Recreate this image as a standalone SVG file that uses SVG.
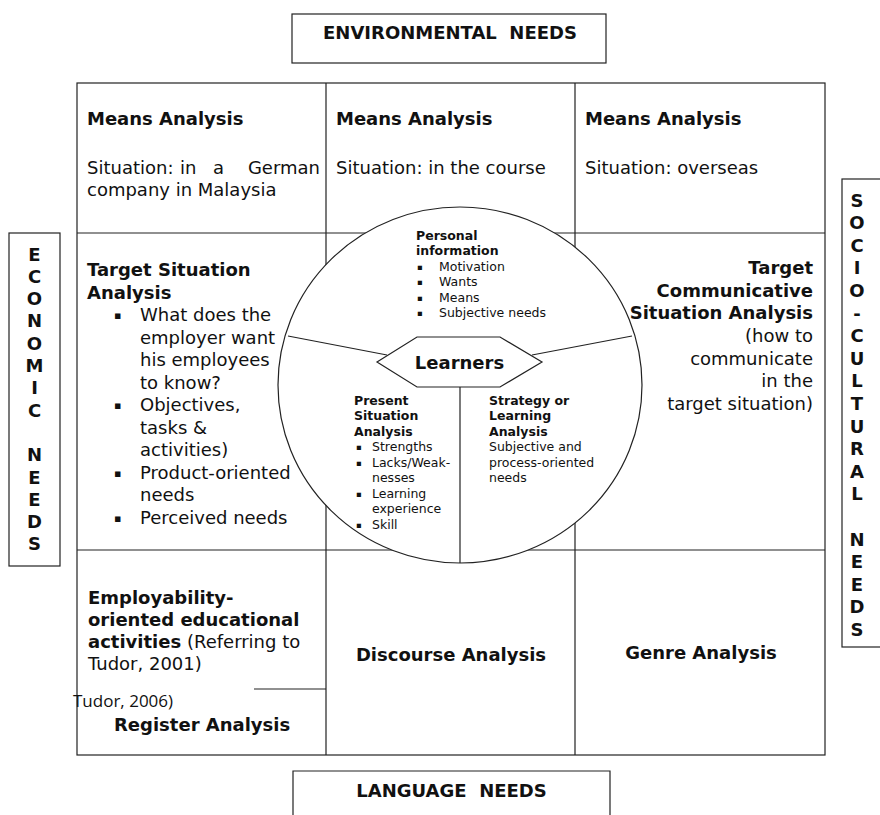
<svg xmlns="http://www.w3.org/2000/svg" width="880" height="815" viewBox="0 0 880 815">
<style>
text{font-family:"DejaVu Sans",Verdana,sans-serif;fill:#111}
.b{font-weight:bold;font-size:18px}
.r{font-size:18px}
.sb{font-weight:bold;font-size:12.5px}
.sr{font-size:12.5px}
.bu{font-size:11px}
.sbu{font-size:8.5px}
.L{font-weight:bold;font-size:18px;text-anchor:middle}
.c{text-anchor:middle}
.e{text-anchor:end}
.ln{stroke:#222;stroke-width:1.2;fill:none}
.box{stroke:#222;stroke-width:1.2;fill:#fff}
.t{font-family:"Open Sans","Liberation Sans",sans-serif;font-size:17px}
</style>
<rect width="880" height="815" fill="#fff"/>

<g id="environmental-needs">
<rect class="box" x="292" y="14" width="314" height="49"/>
<text class="b c" x="450" y="38.5" xml:space="preserve">ENVIRONMENTAL  NEEDS</text>
</g>

<g id="economic-needs">
<rect class="box" x="9" y="233" width="51" height="333"/>
<text class="L" x="34.5" y="260.5">E</text>
<text class="L" x="34.5" y="282.8">C</text>
<text class="L" x="34.5" y="305.1">O</text>
<text class="L" x="34.5" y="327.4">N</text>
<text class="L" x="34.5" y="349.7">O</text>
<text class="L" x="34.5" y="372">M</text>
<text class="L" x="34.5" y="394.3">I</text>
<text class="L" x="34.5" y="416.6">C</text>
<text class="L" x="34.5" y="461.2">N</text>
<text class="L" x="34.5" y="483.5">E</text>
<text class="L" x="34.5" y="505.8">E</text>
<text class="L" x="34.5" y="528.1">D</text>
<text class="L" x="34.5" y="550.4">S</text>
</g>

<g id="socio-cultural-needs">
<rect class="box" x="842" y="179" width="60" height="468"/>
<text class="L" x="857" y="206.5">S</text>
<text class="L" x="857" y="229.1">O</text>
<text class="L" x="857" y="251.7">C</text>
<text class="L" x="857" y="274.3">I</text>
<text class="L" x="857" y="296.9">O</text>
<text class="L" x="857" y="319.5">-</text>
<text class="L" x="857" y="342.1">C</text>
<text class="L" x="857" y="364.7">U</text>
<text class="L" x="857" y="387.3">L</text>
<text class="L" x="857" y="409.9">T</text>
<text class="L" x="857" y="432.5">U</text>
<text class="L" x="857" y="455.1">R</text>
<text class="L" x="857" y="477.7">A</text>
<text class="L" x="857" y="500.3">L</text>
<text class="L" x="857" y="545.5">N</text>
<text class="L" x="857" y="568.1">E</text>
<text class="L" x="857" y="590.7">E</text>
<text class="L" x="857" y="613.3">D</text>
<text class="L" x="857" y="635.9">S</text>
</g>

<g id="language-needs">
<path class="ln" d="M293,815 V771 H610 V815"/>
<text class="b c" x="451.5" y="796.5" xml:space="preserve">LANGUAGE  NEEDS</text>
</g>

<g id="grid">
<rect class="ln" x="77" y="83" width="748" height="672"/>
<path class="ln" d="M77,233 H825 M77,550 H825 M326,83 V755 M575,83 V755 M254,689 H326"/>
</g>

<g id="means-company">
<text class="b" x="87" y="125">Means Analysis</text>
<text class="r" y="174"><tspan x="87">Situation:</tspan><tspan x="180">in</tspan><tspan x="213">a</tspan><tspan x="320" text-anchor="end">German</tspan></text>
<text class="r" x="87" y="195.5">company in Malaysia</text>
</g>

<g id="means-course">
<text class="b" x="336" y="125">Means Analysis</text>
<text class="r" x="336" y="174">Situation: in the course</text>
</g>

<g id="means-overseas">
<text class="b" x="585" y="125">Means Analysis</text>
<text class="r" x="585" y="174">Situation: overseas</text>
</g>

<g id="target-situation">
<text class="b" x="87" y="276">Target Situation</text>
<text class="b" x="87" y="298.5">Analysis</text>
<text class="bu" x="114" y="319">▪</text>
<text class="r" x="140" y="321">What does the</text>
<text class="r" x="140" y="343.5">employer want</text>
<text class="r" x="140" y="366">his employees</text>
<text class="r" x="140" y="388.5">to know?</text>
<text class="bu" x="114" y="409">▪</text>
<text class="r" x="140" y="411">Objectives,</text>
<text class="r" x="140" y="433.5">tasks &amp;</text>
<text class="r" x="140" y="456">activities)</text>
<text class="bu" x="114" y="476.5">▪</text>
<text class="r" x="140" y="478.5">Product-oriented</text>
<text class="r" x="140" y="501">needs</text>
<text class="bu" x="114" y="521.5">▪</text>
<text class="r" x="140" y="523.5">Perceived needs</text>
</g>

<g id="target-communicative">
<text class="b e" x="813" y="274">Target</text>
<text class="b e" x="813" y="296.5">Communicative</text>
<text class="b e" x="813" y="319">Situation Analysis</text>
<text class="r e" x="813" y="342">(how to</text>
<text class="r e" x="813" y="364.5">communicate</text>
<text class="r e" x="813" y="387">in the</text>
<text class="r e" x="813" y="409.5">target situation)</text>
</g>

<g id="employability">
<text class="b" x="88" y="604">Employability-</text>
<text class="b" x="88" y="626">oriented educational</text>
<text class="r" x="88" y="648"><tspan font-weight="bold">activities</tspan> (Referring to</text>
<text class="r" x="88" y="670">Tudor, 2001)</text>
</g>

<g id="register">
<text class="t" x="73" y="707">Tudor, 2006)</text>
<text class="b" x="114" y="731">Register Analysis</text>
</g>

<g id="discourse">
<text class="b c" x="451" y="661">Discourse Analysis</text>
</g>

<g id="genre">
<text class="b c" x="701" y="659">Genre Analysis</text>
</g>

<g id="learner-circle">
<ellipse class="box" cx="460" cy="385" rx="182" ry="178"/>
</g>

<g id="connectors">
<path class="ln" d="M288,336 L387,355"/>
<path class="ln" d="M532,355 L632,336"/>
<path class="ln" d="M460,387 V563"/>
</g>

<g id="personal-information">
<text class="sb" x="416" y="240">Personal</text>
<text class="sb" x="416" y="255.4">information</text>
<text class="sbu" x="417" y="270">▪</text><text class="sr" x="439" y="270.8">Motivation</text>
<text class="sbu" x="417" y="285.4">▪</text><text class="sr" x="439" y="286.2">Wants</text>
<text class="sbu" x="417" y="300.8">▪</text><text class="sr" x="439" y="301.6">Means</text>
<text class="sbu" x="417" y="316.2">▪</text><text class="sr" x="439" y="317">Subjective needs</text>
</g>

<g id="learners">
<polygon class="box" points="377,362 417,337 500,337 542,362 500,387 417,387"/>
<text class="b c" x="459.5" y="369">Learners</text>
</g>

<g id="present-situation">
<text class="sb" x="354" y="404.5">Present</text>
<text class="sb" x="354" y="420">Situation</text>
<text class="sb" x="354" y="435.5">Analysis</text>
<text class="sbu" x="356" y="450.2">▪</text><text class="sr" x="372" y="451">Strengths</text>
<text class="sbu" x="356" y="465.7">▪</text><text class="sr" x="372" y="466.5">Lacks/Weak-</text>
<text class="sr" x="372" y="482">nesses</text>
<text class="sbu" x="356" y="496.7">▪</text><text class="sr" x="372" y="497.5">Learning</text>
<text class="sr" x="372" y="513">experience</text>
<text class="sbu" x="356" y="527.7">▪</text><text class="sr" x="372" y="528.5">Skill</text>
</g>

<g id="strategy">
<text class="sb" x="489" y="404.5">Strategy or</text>
<text class="sb" x="489" y="420">Learning</text>
<text class="sb" x="489" y="435.5">Analysis</text>
<text class="sr" x="489" y="451">Subjective and</text>
<text class="sr" x="489" y="466.5">process-oriented</text>
<text class="sr" x="489" y="482">needs</text>
</g>
</svg>
